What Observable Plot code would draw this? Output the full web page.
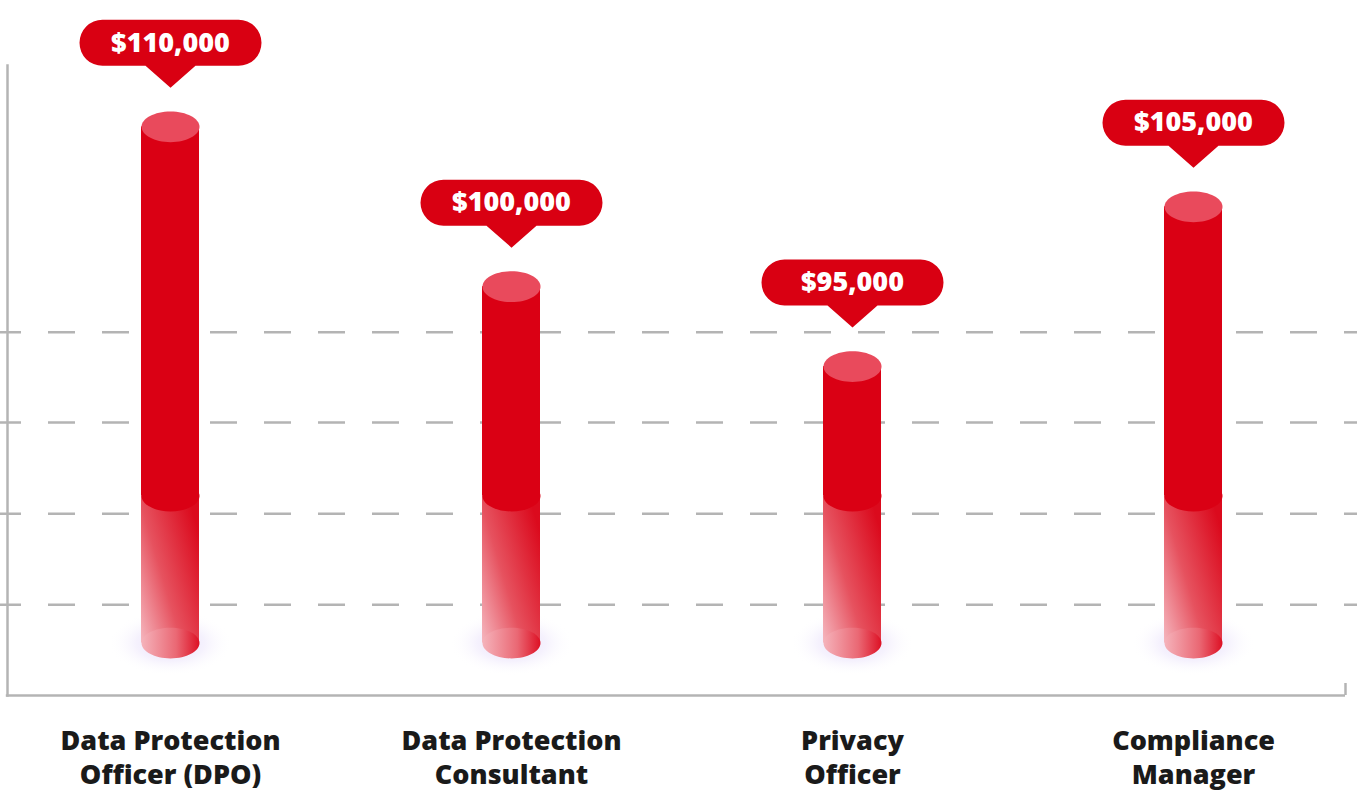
<!DOCTYPE html>
<html><head><meta charset="utf-8">
<script src="https://cdn.jsdelivr.net/npm/d3@7"></script>
<script src="https://cdn.jsdelivr.net/npm/@observablehq/plot@0.6"></script>
<style>html,body{margin:0;padding:0;background:#fff} #chart svg{display:block}</style>
</head><body><div id="chart"></div>
<script>
// ---- data ----
const roles = ["Data Protection Officer (DPO)", "Data Protection Consultant", "Privacy Officer", "Compliance Manager"];
const roleLines = ["Data Protection\nOfficer (DPO)", "Data Protection\nConsultant", "Privacy\nOfficer", "Compliance\nManager"];
const salaries = [110000, 100000, 95000, 105000];
const gridValues = [80100, 85800, 91500, 97150];
const baseValue = 77700;   // foot of each cylinder
const splitValue = 86900;  // where the faded lower band ends
const axisBase = 74420;
const axisTop = 113840;

const data = roles.map((role, i) => ({role, lines: roleLines[i], salary: salaries[i]}));
const fmt = d3.format("$,");
const FONT = "'Open Sans', sans-serif";

// ---- custom symbols ----
const K = 0.5523;
function ellipsePath(ctx, rx, ry) {
  ctx.moveTo(rx, 0);
  ctx.bezierCurveTo(rx, ry * K, rx * K, ry, 0, ry);
  ctx.bezierCurveTo(-rx * K, ry, -rx, ry * K, -rx, 0);
  ctx.bezierCurveTo(-rx, -ry * K, -rx * K, -ry, 0, -ry);
  ctx.bezierCurveTo(rx * K, -ry, rx, -ry * K, rx, 0);
  ctx.closePath();
}
const ellipse = {draw(ctx, size) { const r = Math.sqrt(size / Math.PI); ellipsePath(ctx, r, r * 0.53); }};
const callout = {draw(ctx, size) {
  const W = 182, H = 46, R = 23, tw = 25, th = 22;
  ctx.moveTo(0, 0);
  ctx.lineTo(tw, -th);
  ctx.lineTo(W / 2 - R, -th);
  ctx.arc(W / 2 - R, -th - R, R, Math.PI / 2, -Math.PI / 2, true);
  ctx.lineTo(-W / 2 + R, -th - H);
  ctx.arc(-W / 2 + R, -th - R, R, -Math.PI / 2, -3 * Math.PI / 2, true);
  ctx.lineTo(-tw, -th);
  ctx.closePath();
}};

const grey = "#b4b4b4";
const chart = Plot.plot({
  width: 1365, height: 792,
  marginTop: 65, marginBottom: 97, marginLeft: 7, marginRight: 20,
  style: {background: "#fff", overflow: "visible"},
  x: {type: "band", domain: roles, range: [-2, 1364], paddingInner: 0.83, paddingOuter: 0.415, axis: null},
  y: {domain: [axisBase, axisTop], axis: null},
  marks: [
    Plot.ruleY(gridValues, {stroke: grey, strokeWidth: 2.5, strokeDasharray: "27,27", strokeDashoffset: 6, insetLeft: -7, insetRight: -12}),
    Plot.frame({anchor: "left", stroke: grey, strokeWidth: 2.5}),
    Plot.ruleY([axisBase], {stroke: grey, strokeWidth: 2.5, insetLeft: -1.2}),
    Plot.ruleX([roles[3]], {stroke: grey, strokeWidth: 2.5, dx: 152, insetTop: 618}),
    // glow under each cylinder
    Plot.dot(data, {x: "role", y: () => baseValue, symbol: ellipse, r: 62, fill: "url(#glowGrad)"}),
    // faded lower band
    Plot.barY(data, {x: "role", y1: () => baseValue, y2: () => splitValue, fill: "url(#lowerGrad)"}),
    Plot.dot(data, {x: "role", y: () => baseValue, symbol: ellipse, r: 29, fill: "url(#footGrad)"}),
    // solid upper body
    Plot.dot(data, {x: "role", y: () => splitValue, symbol: ellipse, r: 29, fill: "#da0014"}),
    Plot.barY(data, {x: "role", y1: () => splitValue, y2: "salary", fill: "#da0014"}),
    Plot.dot(data, {x: "role", y: "salary", symbol: ellipse, r: 29, fill: "#e94a5c"}),
    // callouts
    Plot.dot(data, {x: "role", y: "salary", symbol: callout, r: 10, fill: "#d90012", dy: -39}),
    Plot.text(data, {x: "role", y: "salary", text: d => fmt(d.salary), dy: -84, fill: "#fff", fontSize: 27, fontWeight: 800, fontFamily: FONT}),
    // category labels
    Plot.text(data, {x: "role", text: "lines", frameAnchor: "bottom", lineAnchor: "top", dy: 31, fontSize: 27, fontWeight: 800, lineHeight: 1.24, fill: "#1a1a1a", fontFamily: FONT})
  ]
});

const svg = d3.select(chart);
const defs = svg.insert("defs", ":first-child");
const lg = defs.append("linearGradient").attr("id", "lowerGrad").attr("x1", 0).attr("y1", 1).attr("x2", 1).attr("y2", 0.25);
lg.append("stop").attr("offset", 0).attr("stop-color", "#f5b6be");
lg.append("stop").attr("offset", 0.45).attr("stop-color", "#e6525f");
lg.append("stop").attr("offset", 1).attr("stop-color", "#db0a1d");
const fg = defs.append("linearGradient").attr("id", "footGrad").attr("x1", 0).attr("y1", 0).attr("x2", 1).attr("y2", 0);
fg.append("stop").attr("offset", 0).attr("stop-color", "#f5b3bb");
fg.append("stop").attr("offset", 0.6).attr("stop-color", "#ea6874");
fg.append("stop").attr("offset", 1).attr("stop-color", "#dd1024");
const gg = defs.append("radialGradient").attr("id", "glowGrad");
gg.append("stop").attr("offset", 0).attr("stop-color", "#b9a0f0").attr("stop-opacity", 0.35);
gg.append("stop").attr("offset", 0.55).attr("stop-color", "#c8b4f5").attr("stop-opacity", 0.18);
gg.append("stop").attr("offset", 1).attr("stop-color", "#ffffff").attr("stop-opacity", 0);

document.getElementById("chart").appendChild(chart);
</script>
</body></html>
